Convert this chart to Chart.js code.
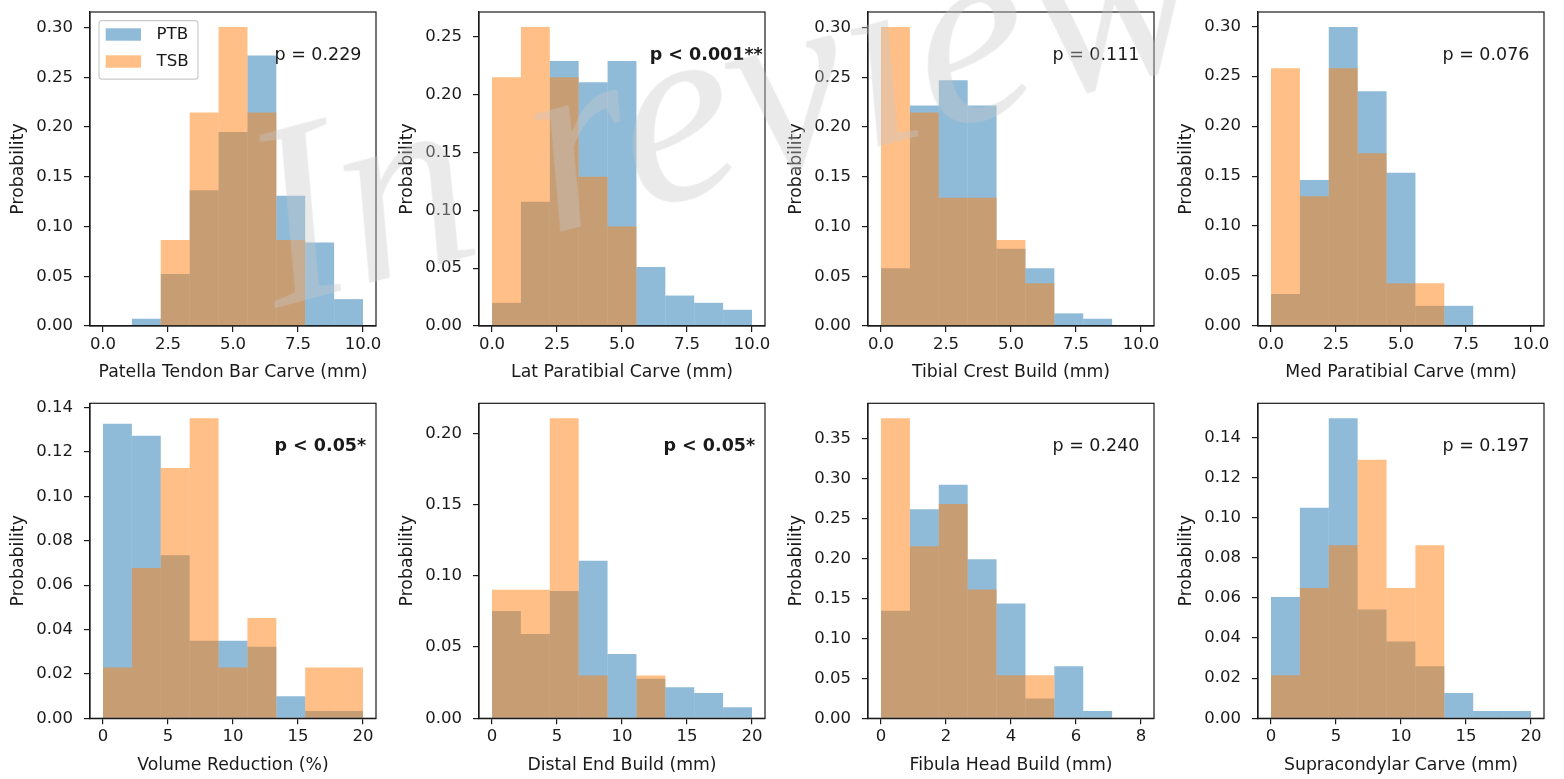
<!DOCTYPE html>
<html>
<head>
<meta charset="utf-8">
<script src="https://cdn.jsdelivr.net/npm/chart.js@4.4.0/dist/chart.umd.min.js"></script>
<style>
  html, body { margin: 0; padding: 0; background: #fff; }
  #figure { position: relative; width: 1564px; height: 779px; overflow: hidden; background: #fff; }
  #figure canvas { position: absolute; }
  #watermark {
    position: absolute; left: 276px; top: 89px;
    font-family: "Liberation Serif", serif; font-style: italic;
    font-size: 262px; line-height: 1; white-space: nowrap;
    color: rgba(200, 200, 200, 0.38);
    transform-origin: 0 219px; transform: rotate(-15deg);
    pointer-events: none; z-index: 5;
  }
</style>
</head>
<body>
<div id="figure">
  <canvas id="c0" width="389" height="389" style="left:0px;top:0px"></canvas>
  <canvas id="c1" width="389" height="389" style="left:389px;top:0px"></canvas>
  <canvas id="c2" width="389" height="389" style="left:778px;top:0px"></canvas>
  <canvas id="c3" width="389" height="389" style="left:1168px;top:0px"></canvas>
  <canvas id="c4" width="389" height="389" style="left:0px;top:390px"></canvas>
  <canvas id="c5" width="389" height="389" style="left:389px;top:390px"></canvas>
  <canvas id="c6" width="389" height="389" style="left:778px;top:390px"></canvas>
  <canvas id="c7" width="389" height="389" style="left:1168px;top:390px"></canvas>
  <div id="watermark">In review</div>
</div>
<script>
// x axis labels of the 8 panels
const xLabels = [
  'Patella Tendon Bar Carve (mm)', 'Lat Paratibial Carve (mm)', 'Tibial Crest Build (mm)', 'Med Paratibial Carve (mm)',
  'Volume Reduction (%)', 'Distal End Build (mm)', 'Fibula Head Build (mm)', 'Supracondylar Carve (mm)'
];
const pTexts = ['p = 0.229', 'p < 0.001**', 'p = 0.111', 'p = 0.076', 'p < 0.05*', 'p < 0.05*', 'p = 0.240', 'p = 0.197'];
const pBold = [false, true, false, false, true, true, false, false];

// histogram range of each panel (9 equal bins)
const binRanges = [[0, 10], [0, 10], [0, 10], [0, 10], [0, 20], [0, 20], [0, 8], [0, 20]];
const binCount = 9;

// tick steps / label decimals
const xTickSteps = [2.5, 2.5, 2.5, 2.5, 5, 5, 2, 5];
const xTickDecimals = [1, 1, 1, 1, 0, 0, 0, 0];
const yTickSteps = [0.05, 0.05, 0.05, 0.05, 0.02, 0.05, 0.05, 0.02];

// bin heights (probability density)
const ptbPatella = [0, 0.0073, 0.0523, 0.1365, 0.195, 0.272, 0.131, 0.084, 0.027];
const tsbPatella = [0, 0, 0.0866, 0.2148, 0.3007, 0.2148, 0.0866, 0, 0];
const ptbLatParatibial = [0.02, 0.1074, 0.2289, 0.2106, 0.2289, 0.0509, 0.0263, 0.02, 0.014];
const tsbLatParatibial = [0.2149, 0.2583, 0.2149, 0.129, 0.086, 0, 0, 0, 0];
const ptbTibialCrest = [0.058, 0.2218, 0.247, 0.2218, 0.0776, 0.058, 0.0127, 0.0073, 0];
const tsbTibialCrest = [0.3007, 0.2148, 0.1289, 0.1289, 0.0866, 0.043, 0, 0, 0];
const ptbMedParatibial = [0.0321, 0.146, 0.2993, 0.235, 0.1533, 0.0202, 0.0202, 0, 0];
const tsbMedParatibial = [0.258, 0.1298, 0.258, 0.1728, 0.0427, 0.0427, 0, 0, 0];
const ptbVolume = [0.1328, 0.1273, 0.0735, 0.0349, 0.0349, 0.0323, 0.0099, 0.0033, 0.0033];
const tsbVolume = [0.0229, 0.0677, 0.1128, 0.1352, 0.0229, 0.0452, 0, 0.0229, 0.0229];
const ptbDistalEnd = [0.0753, 0.0592, 0.0893, 0.1105, 0.0452, 0.0277, 0.0217, 0.0177, 0.0077];
const tsbDistalEnd = [0.0902, 0.0902, 0.2105, 0.0301, 0, 0.0301, 0, 0, 0];
const ptbFibulaHead = [0.1345, 0.2616, 0.2923, 0.1989, 0.1437, 0.0249, 0.0652, 0.0091, 0];
const tsbFibulaHead = [0.3753, 0.2151, 0.2682, 0.1611, 0.054, 0.054, 0, 0, 0];
const ptbSupracondylar = [0.0605, 0.105, 0.1496, 0.0542, 0.0383, 0.026, 0.0126, 0.0036, 0.0036];
const tsbSupracondylar = [0.0215, 0.065, 0.0863, 0.1289, 0.065, 0.0863, 0, 0, 0];

const ptbSeries = [ptbPatella, ptbLatParatibial, ptbTibialCrest, ptbMedParatibial, ptbVolume, ptbDistalEnd, ptbFibulaHead, ptbSupracondylar];
const tsbSeries = [tsbPatella, tsbLatParatibial, tsbTibialCrest, tsbMedParatibial, tsbVolume, tsbDistalEnd, tsbFibulaHead, tsbSupracondylar];

const PTB_FILL = 'rgba(31, 119, 180, 0.5)';
const TSB_FILL = 'rgba(255, 127, 14, 0.5)';
const INK = '#1a1a1a';
const FONT = '"DejaVu Sans", sans-serif';

// per row layout inside each canvas
const chartTops = [12, 13.3];
const xAxisHeights = [63, 60.7];
const xTitlePads = [6.5, 3.5];

// four spines on top of the bars
const spines = {
  id: 'spines',
  afterDraw(chart) {
    const {ctx, chartArea: a} = chart;
    ctx.save();
    ctx.strokeStyle = INK;
    ctx.lineWidth = 1.2;
    ctx.strokeRect(a.left, a.top, a.right - a.left, a.bottom - a.top);
    ctx.restore();
  }
};

// p-value annotation
const pNote = {
  id: 'pNote',
  afterDraw(chart, args, opts) {
    const {ctx, chartArea: a} = chart;
    ctx.save();
    ctx.fillStyle = INK;
    ctx.font = (opts.bold ? 'bold ' : '') + '17.5px ' + FONT;
    ctx.textAlign = 'left';
    ctx.textBaseline = 'alphabetic';
    const fx = opts.bold && opts.text.length > 10 ? 0.597 : 0.645;
    ctx.fillText(opts.text, a.left + fx * (a.right - a.left), a.top + 48);
    ctx.restore();
  }
};

// matplotlib style legend box, upper left
const keyBox = {
  id: 'keyBox',
  afterDraw(chart, args, opts) {
    if (!opts.show) return;
    const {ctx, chartArea: a} = chart;
    const x = a.left + 9, y = a.top + 8.7, w = 99, h = 58.5, r = 3;
    ctx.save();
    ctx.beginPath();
    ctx.roundRect(x, y, w, h, r);
    ctx.fillStyle = 'rgba(255,255,255,0.8)';
    ctx.fill();
    ctx.strokeStyle = '#cccccc';
    ctx.lineWidth = 1.2;
    ctx.stroke();
    chart.data.datasets.forEach((ds, k) => {
      const cy = a.top + 22.5 + k * 27;
      ctx.fillStyle = ds.backgroundColor;
      ctx.fillRect(a.left + 15.7, cy - 6.2, 35.3, 12.4);
      ctx.fillStyle = INK;
      ctx.font = '16.7px ' + FONT;
      ctx.textBaseline = 'middle';
      ctx.fillText(ds.label, a.left + 66.5, cy + 0.5);
    });
    ctx.restore();
  }
};

function makeChart(i) {
  const [lo, hi] = binRanges[i];
  const w = (hi - lo) / binCount;
  const centers = ptbSeries[i].map((_, k) => lo + w * (k + 0.5));
  const yTop = Math.max(...ptbSeries[i], ...tsbSeries[i]) * 1.05;
  const margin = (hi - lo) * 0.05;
  const row = i < 4 ? 0 : 1;
  const barStyle = { grouped: false, barPercentage: 1, categoryPercentage: 1, inflateAmount: 0, borderWidth: 0 };

  new Chart(document.getElementById('c' + i), {
    type: 'bar',
    data: {
      datasets: [
        Object.assign({ label: 'PTB', data: centers.map((x, k) => ({x: x, y: ptbSeries[i][k]})), backgroundColor: PTB_FILL, order: 1 }, barStyle),
        Object.assign({ label: 'TSB', data: centers.map((x, k) => ({x: x, y: tsbSeries[i][k]})), backgroundColor: TSB_FILL, order: 0 }, barStyle)
      ]
    },
    options: {
      responsive: false,
      animation: false,
      events: [],
      layout: { padding: { top: chartTops[row], right: 13, left: 0, bottom: 0 } },
      plugins: {
        legend: { display: false },
        tooltip: { enabled: false },
        pNote: { text: pTexts[i], bold: pBold[i] },
        keyBox: { show: i === 0 }
      },
      scales: {
        x: {
          type: 'linear',
          offset: false,
          min: lo - margin,
          max: hi + margin,
          grid: { offset: false, drawOnChartArea: false, tickLength: 6, color: INK, lineWidth: 1.2 },
          border: { color: INK, width: 1.2 },
          ticks: {
            stepSize: xTickSteps[i], includeBounds: false, autoSkip: false, maxRotation: 0,
            padding: 3, color: INK, font: { family: FONT, size: 16.5 },
            callback: v => v.toFixed(xTickDecimals[i])
          },
          title: { display: true, text: xLabels[i], color: INK, font: { family: FONT, size: 17.3 }, padding: { top: 0, bottom: xTitlePads[row] } },
          afterFit: s => { s.height = xAxisHeights[row]; s.paddingLeft = 0; s.paddingRight = 0; }
        },
        y: {
          min: 0,
          max: yTop,
          grid: { drawOnChartArea: false, tickLength: 6, color: INK, lineWidth: 1.2 },
          border: { color: INK, width: 1.2 },
          ticks: {
            stepSize: yTickSteps[i], includeBounds: false, autoSkip: false,
            padding: 11, color: INK, font: { family: FONT, size: 16.5 },
            callback: v => v.toFixed(2)
          },
          title: { display: true, text: 'Probability', color: INK, font: { family: FONT, size: 17.3 }, padding: { top: 8, bottom: 0 } },
          afterFit: s => { s.width = 90; s.paddingTop = 0; s.paddingBottom = 0; }
        }
      }
    },
    plugins: [spines, pNote, keyBox]
  });
}

for (let i = 0; i < 8; i++) makeChart(i);
</script>
</body>
</html>
